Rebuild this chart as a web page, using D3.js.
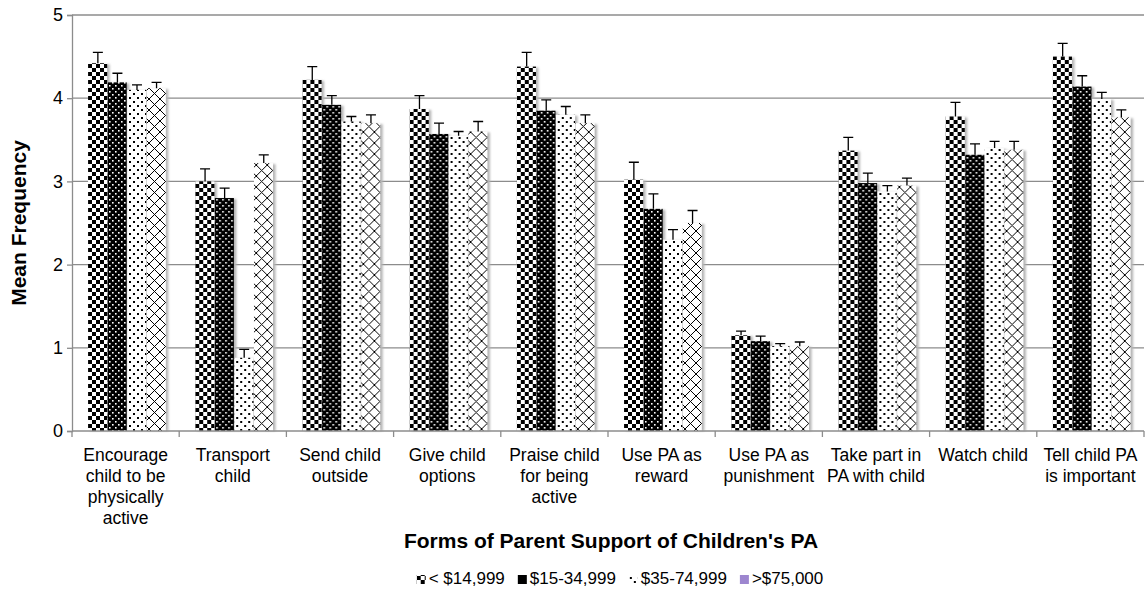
<!DOCTYPE html>
<html>
<head>
<meta charset="utf-8">
<script src="https://cdn.jsdelivr.net/npm/d3@7"></script>
<style>
  body { margin: 0; background: #fff; }
  text { font-family: "Liberation Sans", Arial, sans-serif; fill: #000; }
</style>
</head>
<body>
<svg id="chart" width="1147" height="594"></svg>
<script>
// values
const categories = [
  ["Encourage", "child to be", "physically", "active"],
  ["Transport", "child"],
  ["Send child", "outside"],
  ["Give child", "options"],
  ["Praise child", "for being", "active"],
  ["Use PA as", "reward"],
  ["Use PA as", "punishment"],
  ["Take part in", "PA with child"],
  ["Watch child"],
  ["Tell child PA", "is important"]
];
const seriesNames = ["< $14,999", "$15-34,999", "$35-74,999", ">$75,000"];
const lowIncome  = [4.42, 3.00, 4.22, 3.87, 4.38, 3.02, 1.15, 3.37, 3.78, 4.50];
const lowMid     = [4.19, 2.80, 3.92, 3.57, 3.85, 2.67, 1.08, 2.98, 3.32, 4.14];
const highMid    = [4.10, 0.88, 3.72, 3.55, 3.80, 2.30, 1.02, 2.88, 3.40, 3.99];
const highIncome = [4.12, 3.22, 3.70, 3.60, 3.70, 2.50, 1.02, 2.95, 3.38, 3.77];
// upper end of the error bars
const lowIncomeErr  = [4.55, 3.15, 4.38, 4.03, 4.55, 3.23, 1.20, 3.53, 3.95, 4.66];
const lowMidErr     = [4.30, 2.92, 4.03, 3.70, 3.98, 2.85, 1.14, 3.10, 3.45, 4.27];
const highMidErr    = [4.16, 0.98, 3.78, 3.60, 3.90, 2.42, 1.05, 2.95, 3.48, 4.07];
const highIncomeErr = [4.19, 3.32, 3.80, 3.72, 3.80, 2.65, 1.07, 3.04, 3.48, 3.86];
const yTicks = [0, 1, 2, 3, 4, 5];

const series = [lowIncome, lowMid, highMid, highIncome];
const seriesErr = [lowIncomeErr, lowMidErr, highMidErr, highIncomeErr];
const patternIds = ["checker", "blackdots", "whitedots", "lattice"];

const margin = { left: 72, right: 3, top: 15, bottom: 163 };
const W = 1147, H = 594;

const svg = d3.select("#chart");
const defs = svg.append("defs");

// fill patterns
const p1 = defs.append("pattern").attr("id", "checker")
  .attr("patternUnits", "userSpaceOnUse").attr("width", 8).attr("height", 8);
p1.append("rect").attr("width", 8).attr("height", 8).attr("fill", "#fff");
p1.append("rect").attr("width", 4).attr("height", 4).attr("fill", "#000");
p1.append("rect").attr("x", 4).attr("y", 4).attr("width", 4).attr("height", 4).attr("fill", "#000");

const p2 = defs.append("pattern").attr("id", "blackdots")
  .attr("patternUnits", "userSpaceOnUse").attr("width", 6).attr("height", 6);
p2.append("rect").attr("width", 6).attr("height", 6).attr("fill", "#000");
p2.append("rect").attr("x", 1).attr("y", 1).attr("width", 1.6).attr("height", 1.6).attr("fill", "#fff");
p2.append("rect").attr("x", 4).attr("y", 4).attr("width", 1.6).attr("height", 1.6).attr("fill", "#fff");

const p3 = defs.append("pattern").attr("id", "whitedots")
  .attr("patternUnits", "userSpaceOnUse").attr("width", 8).attr("height", 8);
p3.append("rect").attr("width", 8).attr("height", 8).attr("fill", "#fff");
p3.append("rect").attr("x", 1).attr("y", 1).attr("width", 2).attr("height", 2).attr("fill", "#000");
p3.append("rect").attr("x", 5).attr("y", 5).attr("width", 2).attr("height", 2).attr("fill", "#000");

const p4 = defs.append("pattern").attr("id", "lattice")
  .attr("patternUnits", "userSpaceOnUse").attr("width", 11).attr("height", 11);
p4.append("rect").attr("width", 11).attr("height", 11).attr("fill", "#fff");
p4.append("path").attr("d", "M0,0L11,11M11,0L0,11")
  .attr("stroke", "#000").attr("stroke-width", 1);

const shadow = defs.append("filter").attr("id", "shadow")
  .attr("x", "-20%").attr("y", "-5%").attr("width", "150%").attr("height", "110%");
shadow.append("feGaussianBlur").attr("stdDeviation", 1.2);

const y = d3.scaleLinear().domain([0, 5]).range([H - margin.bottom, margin.top]);
const x = d3.scaleBand().domain(d3.range(categories.length))
  .range([margin.left, W - margin.right]).paddingInner(0).paddingOuter(0);
const xSub = d3.scaleBand().domain(d3.range(series.length))
  .range([x.bandwidth() * 0.15, x.bandwidth() * 0.88]).padding(0);

// gridlines
svg.append("g").selectAll("line").data(yTicks.filter(d => d > 0)).join("line")
  .attr("x1", margin.left).attr("x2", W - margin.right)
  .attr("y1", d => y(d)).attr("y2", d => y(d))
  .attr("stroke", "#8c8c8c").attr("stroke-width", 1.3);

// y axis
const yAxis = svg.append("g").attr("transform", `translate(${margin.left},0)`)
  .call(d3.axisLeft(y).tickValues(yTicks).tickFormat(d3.format("d")).tickSize(5).tickPadding(4));
yAxis.attr("font-size", 18).attr("font-family", "Liberation Sans, Arial, sans-serif");
yAxis.select(".domain").attr("stroke", "#8c8c8c").attr("stroke-width", 1.3);
yAxis.selectAll(".tick line").attr("stroke", "#8c8c8c").attr("stroke-width", 1.3);
yAxis.selectAll(".tick text").attr("fill", "#000");

// bars
const groups = svg.append("g").selectAll("g").data(categories).join("g")
  .attr("transform", (d, i) => `translate(${x(i)},0)`);

groups.each(function(d, ci) {
  const g = d3.select(this);
  series.forEach((s, si) => {
    const bx = xSub(si);
    const bw = xSub.bandwidth();
    g.append("rect")
      .attr("x", bx + 2).attr("y", y(s[ci]) + 1)
      .attr("width", bw).attr("height", y(0) - y(s[ci]) - 1)
      .attr("fill", "#b5b5b5").attr("filter", "url(#shadow)");
  });
  series.forEach((s, si) => {
    const bx = xSub(si);
    const bw = xSub.bandwidth();
    g.append("rect")
      .attr("x", bx).attr("y", y(s[ci]))
      .attr("width", bw - 0.5).attr("height", y(0) - y(s[ci]))
      .attr("fill", `url(#${patternIds[si]})`);
    const cx = bx + bw / 2;
    g.append("path")
      .attr("d", `M${cx},${y(s[ci])}V${y(seriesErr[si][ci])}M${cx - 5},${y(seriesErr[si][ci])}H${cx + 5}`)
      .attr("stroke", "#000").attr("stroke-width", 1.3).attr("fill", "none");
  });
});

// x axis
const xAxisLine = svg.append("g").attr("transform", `translate(0,${y(0)})`);
xAxisLine.append("line").attr("x1", margin.left).attr("x2", W - margin.right)
  .attr("stroke", "#8c8c8c").attr("stroke-width", 1.3);
xAxisLine.selectAll(".xtick").data(d3.range(categories.length + 1)).join("line")
  .attr("class", "xtick")
  .attr("x1", i => margin.left + i * x.step()).attr("x2", i => margin.left + i * x.step())
  .attr("y1", 0).attr("y2", 6)
  .attr("stroke", "#8c8c8c").attr("stroke-width", 1.3);

svg.append("g").selectAll("text").data(categories).join("text")
  .attr("text-anchor", "middle")
  .attr("font-size", 17.5)
  .attr("transform", (d, i) => `translate(${x(i) + x.bandwidth() / 2},${y(0) + 30})`)
  .selectAll("tspan").data(d => d).join("tspan")
  .attr("x", 0).attr("dy", (d, i) => i === 0 ? 0 : 21)
  .text(d => d);

// axis titles
svg.append("text").attr("x", 611).attr("y", 548)
  .attr("text-anchor", "middle").attr("font-size", 21).attr("font-weight", "bold")
  .text("Forms of Parent Support of Children's PA");
svg.append("text").attr("transform", `translate(26,${(y(0) + y(5)) / 2}) rotate(-90)`)
  .attr("text-anchor", "middle").attr("font-size", 21).attr("font-weight", "bold")
  .text("Mean Frequency");

// legend
const legendFills = ["url(#checker)", "#000", "url(#whitedots)", "#9d86cf"];
const legend = svg.append("g");
let lx = 0;
seriesNames.forEach((name, i) => {
  const item = legend.append("g").attr("transform", `translate(${lx},0)`);
  item.append("rect").attr("x", 0).attr("y", -9).attr("width", 9).attr("height", 9)
    .attr("fill", legendFills[i]);
  const t = item.append("text").attr("x", 12).attr("y", 0).attr("font-size", 17).text(name);
  lx += 12 + t.node().getComputedTextLength() + 13;
});
legend.attr("transform", `translate(${620 - (lx - 13) / 2},584)`);
</script>
</body>
</html>
